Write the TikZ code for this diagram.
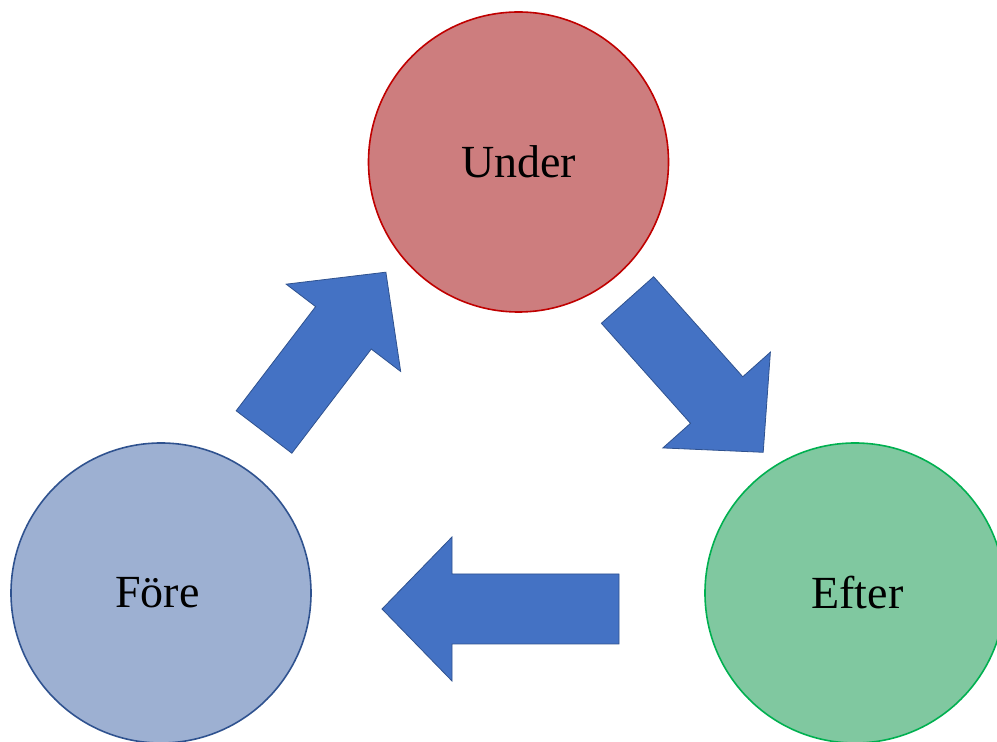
\documentclass[tikz,border=0pt]{standalone}
\usepackage{fontspec}
\setmainfont{Liberation Serif}
\definecolor{arrowblue}{HTML}{4472C4}
\definecolor{arrowedge}{HTML}{2F528F}
\definecolor{underfill}{RGB}{205,125,126}
\definecolor{underedge}{RGB}{192,0,0}
\definecolor{forefill}{RGB}{157,176,210}
\definecolor{foreedge}{RGB}{47,82,143}
\definecolor{efterfill}{RGB}{128,200,160}
\definecolor{efteredge}{RGB}{0,176,80}
\begin{document}
\begin{tikzpicture}[x=1pt,y=1pt,
  stage/.style={circle, minimum size=300pt, inner sep=0pt, line width=1.6pt,
                font=\fontsize{46}{50}\selectfont},
  flow/.style={fill=arrowblue, draw=arrowedge, line width=0.8pt, line join=miter},
  pics/blockarrow/.style={code={
    \path[flow] (0,-35) -- (#1-70,-35) -- (#1-70,-72) -- (#1,0)
                -- (#1-70,72) -- (#1-70,35) -- (0,35) -- cycle;}}]
  \useasboundingbox (0,0) rectangle (997,742);

  % the three phases
  \node[stage, fill=underfill, draw=underedge] (under) at (518.5,580) {Under};
  \node[stage, fill=forefill, draw=foreedge] (fore) at (161,149) {\hspace*{-7pt}Före};
  \node[stage, fill=efterfill, draw=efteredge] (efter) at (855,149) {Efter\hspace*{-5pt}};

  % block arrows of the cycle
  \pic[rotate=52.67] at (264,310) {blockarrow=201};
  \pic[rotate=-48.3] at (627.5,442) {blockarrow=204};
  \pic[rotate=180] at (619,133) {blockarrow=237};
\end{tikzpicture}
\end{document}
